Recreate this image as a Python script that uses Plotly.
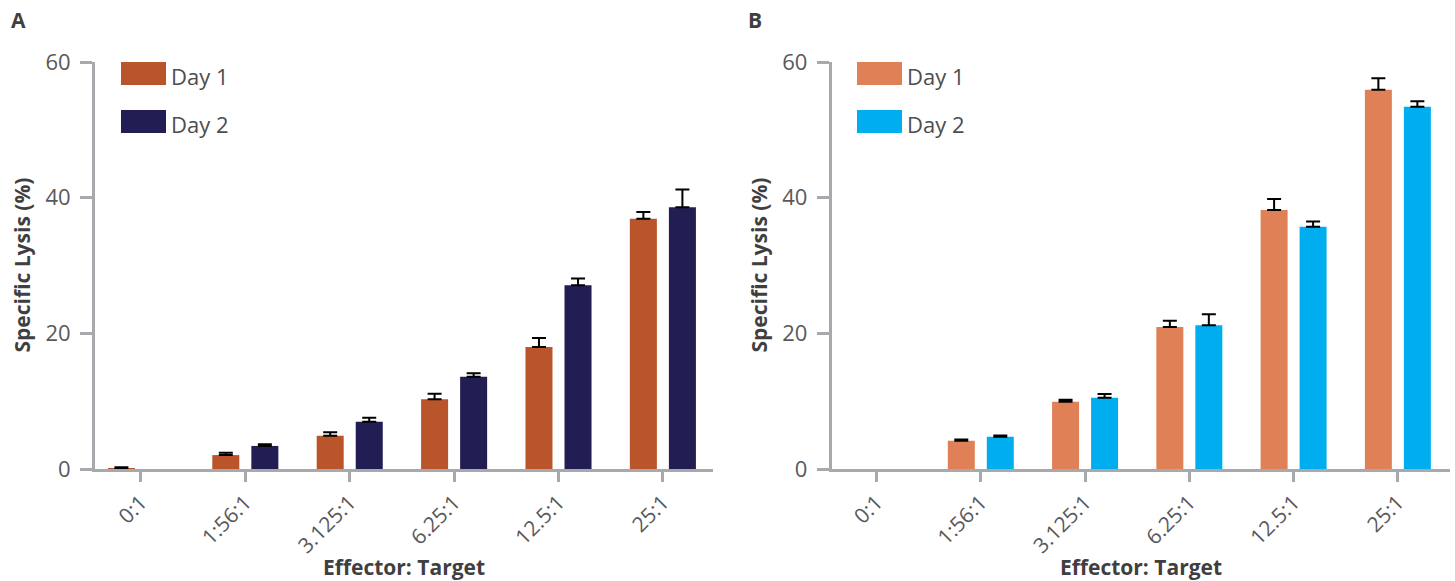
import plotly.graph_objects as go

W, H = 1455, 581

categories = ["0:1", "1:56:1", "3.125:1", "6.25:1", "12.5:1", "25:1"]
series_names = ["Day 1", "Day 2"]

# Panel A values (Specific Lysis %) and upper error; None = nothing drawn
a_day1 = [0.1, 2.05, 4.9, 10.3, 18.0, 36.9]
a_day1_err = [0.15, 0.35, 0.5, 0.8, 1.3, 1.0]
a_day2 = [None, 3.4, 6.95, 13.6, 27.1, 38.6]
a_day2_err = [0, 0.25, 0.6, 0.5, 1.0, 2.6]

# Panel B values (Specific Lysis %) and upper error
b_day1 = [None, 4.15, 9.9, 20.95, 38.2, 55.9]
b_day1_err = [0, 0.2, 0.3, 0.9, 1.6, 1.7]
b_day2 = [None, 4.75, 10.5, 21.2, 35.7, 53.4]
b_day2_err = [0, 0.2, 0.55, 1.6, 0.8, 0.8]

y_ticks = [0, 20, 40, 60]
panel_labels = ["A", "B"]
x_title = "Effector: Target"
y_title = "Specific Lysis (%)"

colors_a = ["#BA552B", "#221E54"]
colors_b = ["#DF8056", "#00AEEF"]

FONT = "Open Sans"
AXIS_GREY = "#A7A9AC"
TICK_TEXT = "#58595B"
DARK_TEXT = "#3F3F41"

fig = go.Figure()


def add_bars(vals, errs, name, color, xa, ya):
    fig.add_trace(go.Bar(
        x=categories, y=vals, name=name, marker=dict(color=color, line=dict(width=0)),
        error_y=dict(type="data", array=errs, arrayminus=[0] * len(errs), symmetric=False,
                     color="black", thickness=2, width=7),
        xaxis=xa, yaxis=ya, showlegend=False,
    ))


add_bars(a_day1, a_day1_err, series_names[0], colors_a[0], "x", "y")
add_bars(a_day2, a_day2_err, series_names[1], colors_a[1], "x", "y")
add_bars(b_day1, b_day1_err, series_names[0], colors_b[0], "x2", "y2")
add_bars(b_day2, b_day2_err, series_names[1], colors_b[1], "x2", "y2")


def px(xp):
    return xp / W


def py(yp):
    return 1 - yp / H


ydom = [py(469), py(62)]
xa_dom = [px(95), px(713)]
xb_dom = [px(831.7), px(1450)]

common_x = dict(
    type="category", showline=True, linewidth=3, linecolor=AXIS_GREY,
    ticks="outside", ticklen=10, tickwidth=3, tickcolor=AXIS_GREY,
    tickangle=-45, showgrid=False, zeroline=False, automargin=False,
    tickfont=dict(family=FONT, size=21, color=TICK_TEXT),
)
common_y = dict(
    range=[0, 60], tickvals=y_ticks, showline=True, linewidth=3, linecolor=AXIS_GREY,
    ticks="outside", ticklen=12, tickwidth=3, tickcolor=AXIS_GREY,
    showgrid=False, zeroline=False, automargin=False, ticklabelstandoff=5,
    tickfont=dict(family=FONT, size=22, color=TICK_TEXT),
)

fig.update_layout(
    width=W, height=H,
    margin=dict(l=0, r=0, t=0, b=0),
    paper_bgcolor="white", plot_bgcolor="white",
    barmode="group", bargap=0.252, bargroupgap=0.308,
    showlegend=False,
    xaxis=dict(domain=xa_dom, range=[-0.44, 5.48], anchor="y", **common_x),
    yaxis=dict(domain=ydom, anchor="x", **common_y),
    xaxis2=dict(domain=xb_dom, range=[-0.43, 5.5], anchor="y2", **common_x),
    yaxis2=dict(domain=ydom, anchor="x2", **common_y),
)

shapes = []
annotations = []

for lab, xl in zip(panel_labels, [9, 746]):
    annotations.append(dict(text=f"<b>{lab}</b>", x=px(xl), y=py(20), xref="paper", yref="paper",
                            xanchor="left", yanchor="middle", showarrow=False,
                            font=dict(family=FONT, size=21, color=DARK_TEXT)))

for dom in [xa_dom, xb_dom]:
    annotations.append(dict(text=f"<b>{x_title}</b>", x=(dom[0] + dom[1]) / 2, y=py(567),
                            xref="paper", yref="paper", xanchor="center", yanchor="middle",
                            showarrow=False, font=dict(family=FONT, size=21, color=DARK_TEXT)))
for xc in [21, 758]:
    annotations.append(dict(text=f"<b>{y_title}</b>", x=px(xc), y=(ydom[0] + ydom[1]) / 2,
                            xref="paper", yref="paper", xanchor="center", yanchor="middle",
                            textangle=-90, showarrow=False,
                            font=dict(family=FONT, size=21, color=DARK_TEXT)))

for x0, cols in [(121, colors_a), (857, colors_b)]:
    for i, (nm, c) in enumerate(zip(series_names, cols)):
        y0 = 62 + 48 * i
        shapes.append(dict(type="rect", xref="paper", yref="paper",
                           x0=px(x0), x1=px(x0 + 45), y0=py(y0), y1=py(y0 + 23),
                           fillcolor=c, line=dict(width=0)))
        annotations.append(dict(text=nm, x=px(x0 + 48), y=py(y0 + 14), xref="paper", yref="paper",
                                xanchor="left", yanchor="middle", showarrow=False,
                                font=dict(family=FONT, size=22, color="#4D4D4F")))

fig.update_layout(shapes=shapes, annotations=annotations)

fig.write_html("out.html")
